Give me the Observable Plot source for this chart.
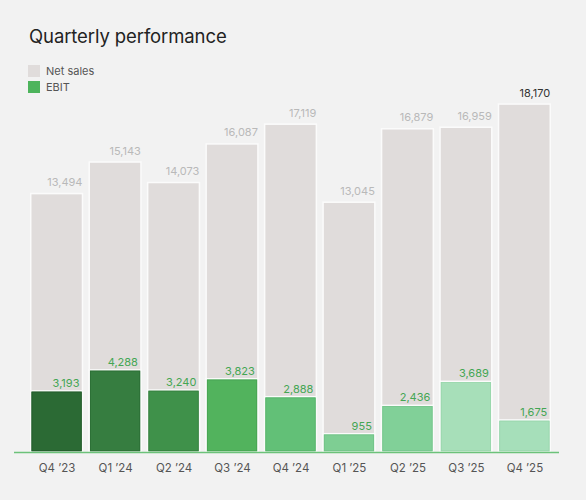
<!DOCTYPE html>
<html><head><meta charset="utf-8">
<script src="https://cdn.jsdelivr.net/npm/d3@7"></script>
<script src="https://cdn.jsdelivr.net/npm/@observablehq/plot@0.6"></script>
<style>
body{margin:0;background:#f2f2f2;font-family:Inter,"Noto Sans",sans-serif;}
#wrap{position:relative;width:586px;height:500px;overflow:hidden;}
#title{position:absolute;left:29px;top:26px;margin:0;font-weight:400;font-size:18.5px;line-height:20px;color:#222;letter-spacing:-0.1px;}
#legend{position:absolute;left:28px;top:65px;font-size:11px;color:#555;z-index:2;}
.row{display:flex;align-items:center;height:12px;margin-bottom:4px;}
.sw{width:12px;height:12px;margin-right:6px;}
#chart{position:absolute;left:0;top:56px;}
</style></head>
<body>
<div id="wrap">
  <h1 id="title">Quarterly performance</h1>
  <div id="legend">
    <div class="row"><div class="sw" style="background:#e0dcdb"></div>Net sales</div>
    <div class="row"><div class="sw" style="background:#4db45c"></div>EBIT</div>
  </div>
  <div id="chart"></div>
</div>
<script>
const quarters = ["Q4 ’23","Q1 ’24","Q2 ’24","Q3 ’24","Q4 ’24","Q1 ’25","Q2 ’25","Q3 ’25","Q4 ’25"];
const netSales = [13494,15143,14073,16087,17119,13045,16879,16959,18170];
const ebit = [3193,4288,3240,3823,2888,955,2436,3689,1675];
const ebitColors = ["#2b6a34","#367d40","#3f914a","#52b35d","#62c077","#7ece93","#81d098","#a7dfb9","#a6dfba"];
const ebitOutline = ["#215a2a","#2c6e35","#357f3f","#47a352","#56b26a","#72c287","#74c48b","#98d6ab","#98d6ab"];

const data = quarters.map((q,i)=>({q, sales: netSales[i], ebit: ebit[i], color: ebitColors[i], outline: ebitOutline[i], last: i === quarters.length-1}));

const W = 586, H = 444;
const bw = 51.7;
const chart = Plot.plot({
  width: W, height: H,
  marginLeft: 24, marginRight: 29, marginTop: 13, marginBottom: 48,
  style: {background: "transparent", fontFamily: "Inter, 'Noto Sans', sans-serif"},
  x: {domain: quarters, padding: 0.115, round: false, axis: null},
  y: {domain: [0, 20000], axis: null},
  marks: [
    Plot.barY(data, {x: "q", y: "sales", fill: "#e0dcdb", stroke: "#fbfbfb", strokeWidth: 1.5}),
    Plot.barY(data, {x: "q", y: "ebit", fill: d => d.color, stroke: "#fbfbfb", strokeWidth: 1.5}),
    Plot.barY(data, {x: "q", y: "ebit", fill: "none", stroke: d => d.outline, strokeWidth: 0.8, inset: 1.2}),
    Plot.ruleY([0], {stroke: "#6cc27a", strokeWidth: 1.5, insetLeft: -10, insetRight: -2}),
    Plot.text(data, {x: "q", y: "sales", text: d => d3.format(",")(d.sales), textAnchor: "end", lineAnchor: "bottom", dx: bw/2 - 0.5, dy: -8, fontSize: 11, fill: d => d.last ? "#333" : "#b9b9b9"}),
    Plot.text(data, {x: "q", y: "ebit", text: d => d3.format(",")(d.ebit), textAnchor: "end", lineAnchor: "bottom", dx: bw/2 - 3.5, dy: -4.5, fontSize: 11, fill: "#44a653"}),
    Plot.axisX({domain: quarters, tickSize: 0, tickPadding: 11, fontSize: 11.5, color: "#555", label: null})
  ]
});
document.getElementById("chart").appendChild(chart);
</script>
</body></html>
